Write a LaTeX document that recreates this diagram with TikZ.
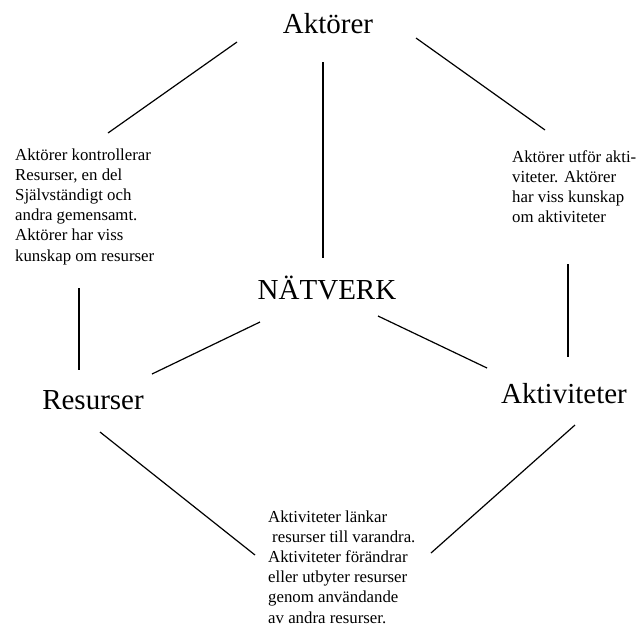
\documentclass[tikz,border=0pt]{standalone}
\usepackage{fontspec}
\setmainfont{Liberation Serif}
\begin{document}
\begin{tikzpicture}[x=1pt,y=-1pt,
  big/.style={inner sep=0pt,anchor=base,font=\fontsize{29}{33}\selectfont},
  small/.style={inner sep=0pt,anchor=base west,font=\fontsize{16.8}{20.2}\selectfont},
  conn/.style={line width=1.2pt,black}]
\useasboundingbox[fill=white] (0,0) rectangle (639,630);
% main labels
\node[big] (akt) at (328,33) {Aktörer};
\node[big] (nat) at (327,299) {NÄTVERK};
\node[big] (res) at (93,409) {Resurser};
\node[big] (aktv) at (564,403) {Aktiviteter};
% text blocks
\node[small] (tl) at (15,160) {\parbox[t]{200pt}{\raggedright Aktörer kontrollerar\\Resurser, en del\\Självständigt och\\andra gemensamt.\\Aktörer har viss\\kunskap om resurser}};
\node[small] (tr) at (512,162) {\parbox[t]{140pt}{\raggedright Aktörer utför akti-\\viteter. Aktörer\\har viss kunskap\\om aktiviteter}};
\node[small] (tb) at (268,522) {\parbox[t]{200pt}{\raggedright Aktiviteter länkar\\\hspace*{4pt}resurser till varandra.\\Aktiviteter förändrar\\eller utbyter resurser\\genom användande\\av andra resurser.}};
% connector end points
\coordinate (p1) at (237,42);  \coordinate (p2) at (108,133);
\coordinate (p3) at (323,62);  \coordinate (p4) at (323,258);
\coordinate (p5) at (416,38);  \coordinate (p6) at (545,130);
\coordinate (p7) at (79,288);  \coordinate (p8) at (79,370);
\coordinate (p9) at (568,264); \coordinate (p10) at (568,357);
\coordinate (p11) at (260,322); \coordinate (p12) at (152,374);
\coordinate (p13) at (378,316); \coordinate (p14) at (487,368);
\coordinate (p15) at (100,432); \coordinate (p16) at (255,555);
\coordinate (p17) at (575,425); \coordinate (p18) at (431,553);
\draw[conn] (p1) -- (p2);
\draw[conn] (p3) -- (p4);
\draw[conn] (p5) -- (p6);
\draw[conn] (p7) -- (p8);
\draw[conn] (p9) -- (p10);
\draw[conn] (p11) -- (p12);
\draw[conn] (p13) -- (p14);
\draw[conn] (p15) -- (p16);
\draw[conn] (p17) -- (p18);
\end{tikzpicture}
\end{document}
